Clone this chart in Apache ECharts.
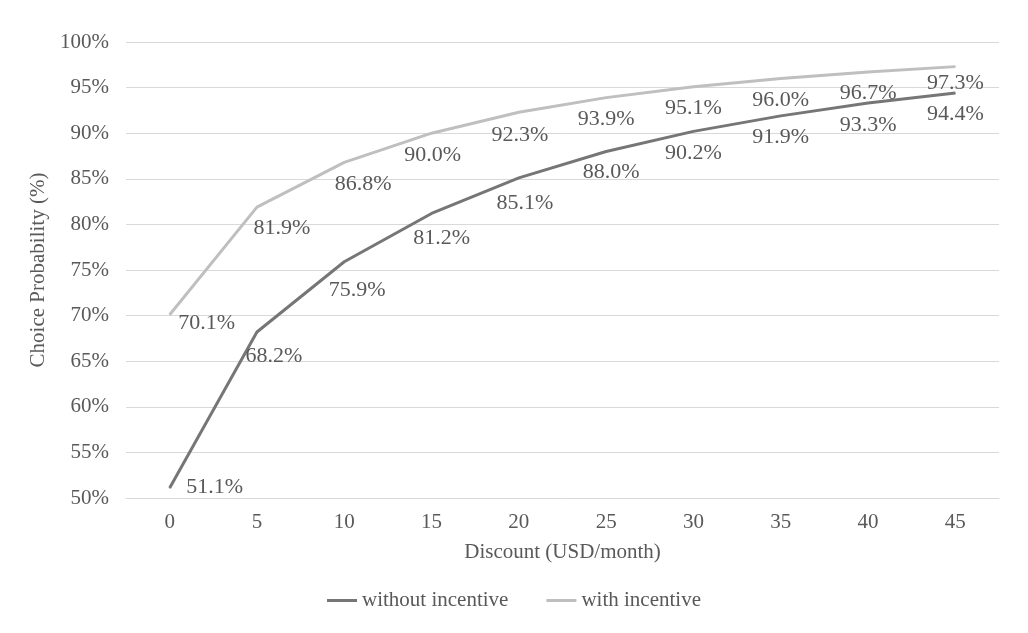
<!DOCTYPE html>
<html>
<head>
<meta charset="utf-8">
<script src="https://cdn.jsdelivr.net/npm/echarts@6/dist/echarts.min.js"></script>
<style>
  html, body { margin: 0; padding: 0; background: #fff; }
  #chart { width: 1028px; height: 633px; }
</style>
</head>
<body>
<div id="chart"></div>
<script>
// data
var discounts = ['0', '5', '10', '15', '20', '25', '30', '35', '40', '45'];
var withoutIncentive = [51.1, 68.2, 75.9, 81.2, 85.1, 88.0, 90.2, 91.9, 93.3, 94.4];
var withIncentive = [70.1, 81.9, 86.8, 90.0, 92.3, 93.9, 95.1, 96.0, 96.7, 97.3];

// label nudges (px) so labels sit where they were placed in the original
var shiftWithout = [[45, -22], [17, 3], [13, 7], [10, 3], [6, 4], [5, -1], [0, 0], [0, 0], [0, 1], [0, 0]];
var shiftWith = [[37, -13], [25, 0], [19, 0], [1, 1], [1, 1], [0, 0], [0, 0], [0, 0], [0, 0], [0, -5]];

var FONT = '"Liberation Serif", "Times New Roman", serif';
var TEXT = '#595959';

function buildData(vals, shifts) {
    return vals.map(function (v, i) {
        return { value: v, label: { offset: shifts[i] } };
    });
}

function lineSeries(name, vals, shifts, color) {
    return {
        name: name,
        type: 'line',
        data: buildData(vals, shifts),
        symbol: 'circle',
        symbolSize: 1,
        lineStyle: { color: color, width: 3 },
        itemStyle: { color: color },
        label: {
            show: true,
            position: 'bottom',
            distance: 10,
            color: TEXT,
            fontFamily: FONT,
            fontSize: 22,
            formatter: function (p) { return p.value.toFixed(1) + '%'; }
        },
        emphasis: { disabled: true },
        animation: false
    };
}

var chart = echarts.init(document.getElementById('chart'));
chart.setOption({
    backgroundColor: '#fff',
    textStyle: { fontFamily: FONT, color: TEXT },
    grid: { left: 126, right: 29, top: 42, bottom: 135 },
    legend: {
        bottom: 17,
        left: 'center',
        icon: 'rect',
        itemWidth: 30,
        itemHeight: 3,
        itemGap: 38,
        textStyle: { fontFamily: FONT, fontSize: 21, color: TEXT },
        data: ['without incentive', 'with incentive']
    },
    xAxis: {
        type: 'category',
        data: discounts,
        boundaryGap: true,
        name: 'Discount (USD/month)',
        nameLocation: 'middle',
        nameGap: 44,
        nameTextStyle: { fontFamily: FONT, fontSize: 21, color: TEXT },
        axisLine: { lineStyle: { color: '#d9d9d9', width: 1 } },
        axisTick: { show: false },
        axisLabel: { fontFamily: FONT, fontSize: 21, color: TEXT, margin: 14 }
    },
    yAxis: {
        type: 'value',
        min: 50,
        max: 100,
        interval: 5,
        name: 'Choice Probability (%)',
        nameLocation: 'middle',
        nameGap: 73,
        nameTextStyle: { fontFamily: FONT, fontSize: 21, color: TEXT },
        axisLine: { show: false },
        axisTick: { show: false },
        axisLabel: { fontFamily: FONT, fontSize: 21, color: TEXT, margin: 17, formatter: '{value}%' },
        splitLine: { lineStyle: { color: '#d9d9d9', width: 1 } }
    },
    series: [
        lineSeries('without incentive', withoutIncentive, shiftWithout, '#767676'),
        lineSeries('with incentive', withIncentive, shiftWith, '#bfbfbf')
    ]
});
</script>
</body>
</html>
